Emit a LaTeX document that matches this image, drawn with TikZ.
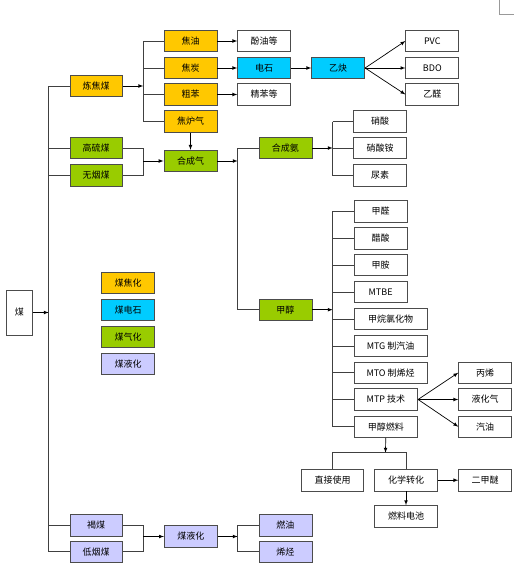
\documentclass[tikz,border=0pt]{standalone}
\usepackage{fontspec}
\newfontfamily\cjk{Noto Sans CJK SC}
\definecolor{jiao}{HTML}{FFC800}
\definecolor{dian}{HTML}{00CCFF}
\definecolor{qi}{HTML}{99CC00}
\definecolor{ye}{HTML}{CCCCFF}
\tikzset{
	box/.style={rectangle, draw=black!70, line width=0.8pt, minimum width=53pt, minimum height=21.5pt, inner sep=1pt, font=\cjk\fontsize{9}{10}\selectfont},
	arr/.style={-latex, black},
}
\begin{document}
\begin{tikzpicture}[x=1pt, y=-1pt, draw=black!75, line width=0.7pt]
	\useasboundingbox (0,0) rectangle (514,581);
	\draw[black!40] (499.3,0) -- (499.3,14.7) -- (514,14.7);

	\node (mei)      at ( 19.4, 312.5)	[box, minimum width=25.5pt, minimum height=45pt]	{煤};

	\node (lianjiao) at ( 96.2,  86)	[box, fill = jiao, minimum width=52pt]	{炼焦煤};
	\node (gaoliu)   at ( 96.2, 148)	[box, fill = qi, minimum width=52pt]	{高硫煤};
	\node (wuyan)    at ( 96.2, 175.5)	[box, fill = qi, minimum width=52pt]	{无烟煤};
	\node (hemei)    at ( 96.2, 525.2)	[box, fill = ye, minimum width=52pt]	{褐煤};
	\node (diyan)    at ( 96.2, 551.8)	[box, fill = ye, minimum width=52pt]	{低烟煤};

	\node (jiaoyou)  at (190.5,  41)	[box, fill = jiao]	{焦油};
	\node (jiaotan)  at (190.5,  68)	[box, fill = jiao]	{焦炭};
	\node (cuben)    at (190.5,  94.5)	[box, fill = jiao]	{粗苯};
	\node (jiaolu)   at (190.5, 121.5)	[box, fill = jiao]	{焦炉气};
	\node (hecheng)  at (190.5, 161)	[box, fill = qi]	{合成气};
	\node (yehua)    at (190.8, 536.5)	[box, fill = ye]	{煤液化};

	\node (fenyou)   at (264.2,  41)	[box]	{酚油等};
	\node (dianshi)  at (264.2,  68)	[box, fill = dian]	{电石};
	\node (jingben)  at (264.2,  94.5)	[box]	{精苯等};
	\node (yique)    at (338.2,  68)	[box, fill = dian]	{乙炔};
	\node (pvc)      at (432.3,  41)	[box]	{PVC};
	\node (bdo)      at (432.3,  68)	[box]	{BDO};
	\node (yiquan)   at (432.3,  94.5)	[box]	{乙醛};

	\node (hechengan) at (285.4, 148)	[box, fill = qi]	{合成氨};
	\node (jiachun)  at (285.4, 309.7)	[box, fill = qi]	{甲醇};
	\node (ranyou)   at (285.4, 525.2)	[box, fill = ye]	{燃油};
	\node (xiting)   at (285.4, 551.8)	[box, fill = ye]	{烯烃};

	\node (xiaosuan) at (380, 121.5)	[box]	{硝酸};
	\node (xiaoan)   at (380, 148)	[box]	{硝酸铵};
	\node (niaosu)   at (380, 175.5)	[box]	{尿素};

	\node (jiaquan)  at (353.7, 211.3)	[box, anchor=west]	{甲醛};
	\node (cusuan)   at (353.7, 238.3)	[box, anchor=west]	{醋酸};
	\node (jiaan)    at (353.7, 265)	[box, anchor=west]	{甲胺};
	\node (mtbe)     at (353.7, 292)	[box, anchor=west]	{MTBE};
	\node (jiawan)   at (353.7, 319)	[box, anchor=west, minimum width=73pt]	{甲烷氯化物};
	\node (mtg)      at (353.7, 346)	[box, anchor=west, minimum width=73pt]	{MTG 制汽油};
	\node (mto)      at (353.7, 372.8)	[box, anchor=west, minimum width=73pt]	{MTO 制烯烃};
	\node (mtp)      at (353.7, 399.5)	[box, anchor=west, minimum width=63.6pt]	{MTP 技术};
	\node (jiachunrl) at (353.7, 426.7)	[box, anchor=west, minimum width=63.6pt]	{甲醇燃料};

	\node (bingxi)   at (485.2, 372.7)	[box]	{丙烯};
	\node (yehuaqi)  at (485.2, 399.5)	[box]	{液化气};
	\node (qiyou)    at (485.2, 426.7)	[box]	{汽油};

	\node (zhijie)   at (332.7, 480.2)	[box, minimum width=62pt]	{直接使用};
	\node (huaxue)   at (406, 480.2)	[box, minimum width=62.6pt]	{化学转化};
	\node (erjiami)  at (485.2, 480.2)	[box]	{二甲醚};
	\node (dianchi)  at (406, 516.3)	[box, minimum width=62.6pt]	{燃料电池};

	\node (lg1) at (128, 282.8)	[box, fill = jiao]	{煤焦化};
	\node (lg2) at (128, 309.8)	[box, fill = dian]	{煤电石};
	\node (lg3) at (128, 336.7)	[box, fill = qi]	{煤气化};
	\node (lg4) at (128, 363.7)	[box, fill = ye]	{煤液化};

	\coordinate (m)  at ( 48.7, 312.5);
	\coordinate (b1) at (143.3,  86);
	\coordinate (b2) at (143.3, 161);
	\coordinate (b3) at (237.7, 161);
	\coordinate (b4) at (332.7, 148);
	\coordinate (b5) at (332.7, 309.7);
	\coordinate (b6) at (385.5, 452.7);
	\coordinate (b7) at (143.3, 536.5);
	\coordinate (b8) at (237.7, 536.5);

	\draw[arr] (mei) -- (m);
	\draw (m |- lianjiao) -- (m |- diyan);
	\foreach \n in {lianjiao, gaoliu, wuyan, hemei, diyan}
		\draw (m |- \n) -- (\n);

	\draw[arr] (lianjiao) -- (b1);
	\draw (b1 |- jiaoyou) -- (b1 |- jiaolu);
	\foreach \n in {jiaoyou, jiaotan, cuben, jiaolu}
		\draw (b1 |- \n) -- (\n);
	\draw[arr] (jiaoyou) -- (fenyou);
	\draw[arr] (jiaotan) -- (dianshi);
	\draw[arr] (cuben) -- (jingben);
	\draw[arr] (dianshi) -- (yique);
	\draw[arr] (yique.east) -- (pvc.west);
	\draw[arr] (yique.east) -- (bdo.west);
	\draw[arr] (yique.east) -- (yiquan.west);

	\draw (gaoliu) -| (b2) |- (wuyan);
	\draw[arr] (b2) -- (hecheng);
	\draw[arr] (jiaolu) -- (hecheng);
	\draw[arr] (hecheng) -- (b3);
	\draw (b3 |- hechengan) -- (b3 |- jiachun);
	\draw (b3 |- hechengan) -- (hechengan);
	\draw (b3 |- jiachun) -- (jiachun);

	\draw[arr] (hechengan) -- (b4);
	\draw (b4 |- xiaosuan) -- (b4 |- niaosu);
	\foreach \n in {xiaosuan, xiaoan, niaosu}
		\draw (b4 |- \n) -- (\n);

	\draw[arr] (jiachun) -- (b5);
	\draw (b5 |- jiaquan) -- (b5 |- jiachunrl);
	\foreach \n in {jiaquan, cusuan, jiaan, mtbe, jiawan, mtg, mto, mtp, jiachunrl}
		\draw (b5 |- \n) -- (\n);
	\draw[arr] (mtp.east) -- (bingxi.west);
	\draw[arr] (mtp.east) -- (yehuaqi.west);
	\draw[arr] (mtp.east) -- (qiyou.west);

	\draw[arr] (jiachunrl) -- (b6);
	\draw (zhijie) |- (b6) -| (huaxue);
	\draw[arr] (huaxue) -- (erjiami);
	\draw[arr] (huaxue) -- (dianchi);

	\draw (hemei) -| (b7) |- (diyan);
	\draw[arr] (b7) -- (yehua);
	\draw[arr] (yehua) -- (b8);
	\draw (b8 |- ranyou) -- (b8 |- xiting);
	\draw (b8 |- ranyou) -- (ranyou);
	\draw (b8 |- xiting) -- (xiting);
\end{tikzpicture}
\end{document}
